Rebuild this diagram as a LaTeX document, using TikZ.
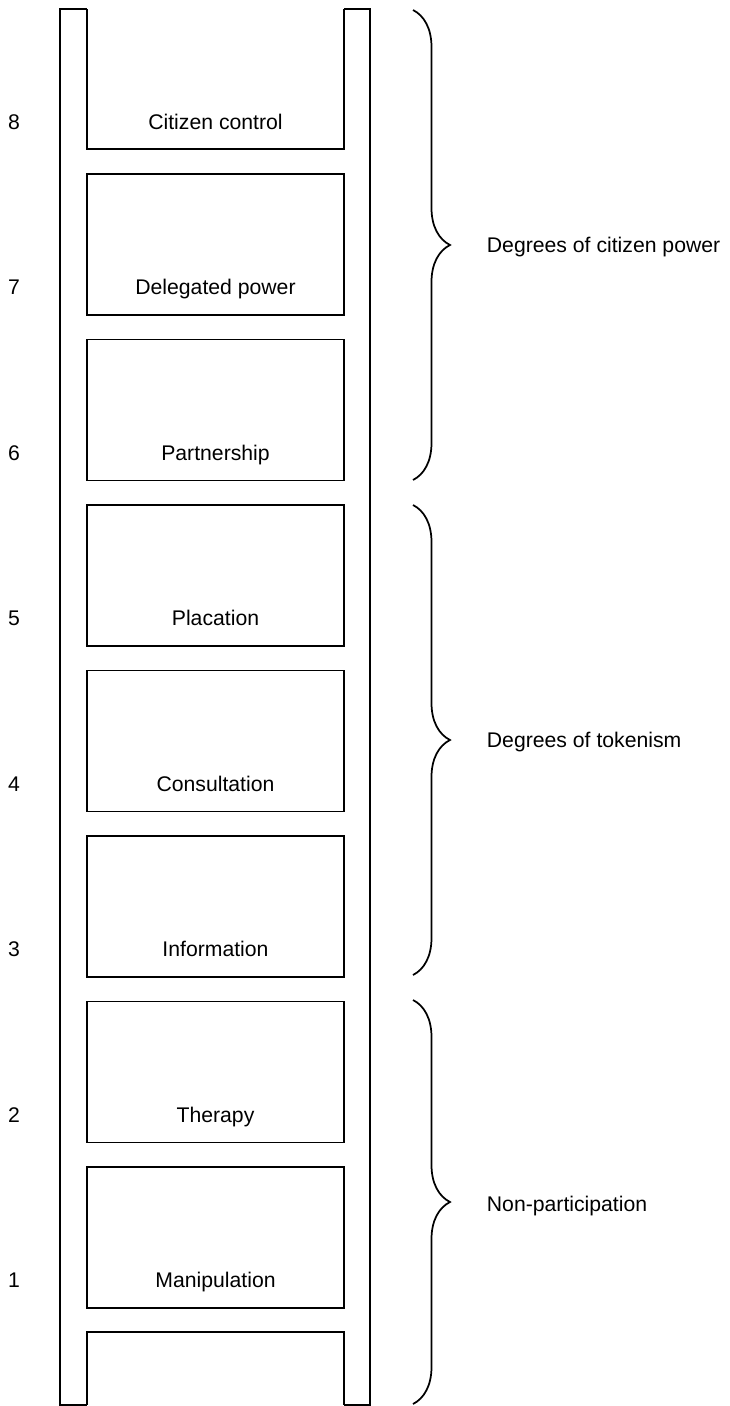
\documentclass[tikz,border=0pt]{standalone}
\usepackage{fontspec}
\setmainfont{Liberation Sans}
\usetikzlibrary{positioning,decorations.pathreplacing}

\tikzset{
  rung/.style={draw, minimum width=192.75pt, minimum height=105.75pt, inner sep=0pt},
  tag/.style={font=\fontsize{15.9}{19}\selectfont, inner sep=0pt, text height=11.4pt, text depth=0pt},
  grp/.style={decorate, decoration={brace, amplitude=27.75pt}, line width=1.3pt}
}

\begin{document}
\begin{tikzpicture}[x=0.75pt, y=-0.75pt, line width=1.4pt]
    \useasboundingbox (0,0) rectangle (730,1406);
    % rails, with the open boxes at both ends
    \draw (87,9) -- (60,9) -- (60,1405) -- (87,1405);
    \draw (344,9) -- (370,9) -- (370,1405) -- (344,1405);
    \draw (87,9) -- (87,149) -- (344,149) -- (344,9);
    \draw (87,1405) -- (87,1332) -- (344,1332) -- (344,1405);
    % closed boxes between the rungs
    \foreach \n in {1,...,7}
        \node[rung] (r\n) at (215.5,{244.5+165.5*(7-\n)}) {};
    % labels and numbers
    \foreach \n/\txt in {8/Citizen control, 7/Delegated power, 6/Partnership,
                         5/Placation, 4/Consultation, 3/Information,
                         2/Therapy, 1/Manipulation}
    {
        \node[tag] (t\n) at (215.5,{121.4+165.5*(8-\n)}) {\txt};
        \node[tag] (n\n) at (14,{121.4+165.5*(8-\n)}) {\n};
    }
    % braces
    \coordinate (a1) at (413,10);   \coordinate (b1) at (413,480);  \coordinate (p1) at (450,245);
    \coordinate (a2) at (413,505);  \coordinate (b2) at (413,975);  \coordinate (p2) at (450,740);
    \coordinate (a3) at (413,1000); \coordinate (b3) at (413,1404); \coordinate (p3) at (450,1204);
    \draw[grp] (a1) -- (b1);
    \draw[grp] (a2) -- (b2);
    \draw[grp] (a3) -- (b3);
    \node[tag, right=27pt of p1] (g1) {Degrees of citizen power};
    \node[tag, right=27pt of p2] (g2) {Degrees of tokenism};
    \node[tag, right=27pt of p3] (g3) {Non-participation};
\end{tikzpicture}
\end{document}
